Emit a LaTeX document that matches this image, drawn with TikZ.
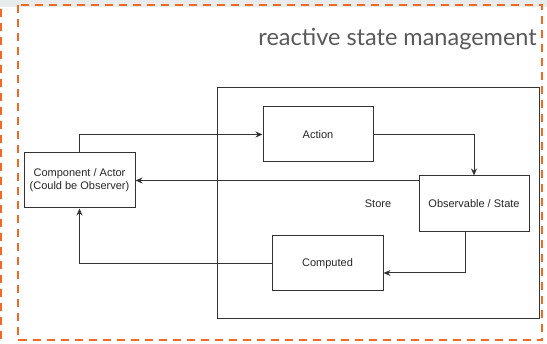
\documentclass[tikz,border=0pt]{standalone}
\usepackage{fontspec}
\setmainfont{Liberation Sans}
\newfontfamily\titlefont{Lato}
\usetikzlibrary{arrows.meta,calc}
\definecolor{frameorange}{HTML}{F26A21}
\definecolor{bandgray}{HTML}{E9ECEC}
\definecolor{titlegray}{HTML}{595959}
\definecolor{linegray}{HTML}{333333}
\tikzset{
  box/.style={draw=linegray, line width=1pt, rectangle, inner sep=0pt, align=center,
    font=\fontsize{11pt}{13pt}\selectfont, text=black!85},
  arr/.style={draw=linegray, line width=1pt, -{Stealth[length=7pt,width=6pt]}},
  frame/.style={draw=frameorange, line width=2pt, dash pattern=on 8pt off 6pt}
}
\begin{document}
\begin{tikzpicture}[x=1pt,y=-1pt]
\useasboundingbox (0,0) rectangle (547,344);
\fill[bandgray] (0,0) rectangle (547,7);
\draw[frame] (18,5) rectangle (542,340.5);
\draw[frame] (1,9) -- (1,344);
\node[anchor=base east, font=\titlefont\fontsize{23.5pt}{28pt}\selectfont, text=titlegray, inner sep=0pt] (title) at (537,46) {reactive state management};
\node[box, minimum width=322pt, minimum height=231pt] (store) at (378,203.5) {Store};
\node[box, minimum width=111pt, minimum height=55pt] (comp) at (79.5,180.5) {Component / Actor\\(Could be Observer)};
\node[box, minimum width=110pt, minimum height=55pt, fill=white] (action) at (318,134.5) {Action};
\node[box, minimum width=110pt, minimum height=56pt, fill=white] (obs) at (474,204) {Observable / State};
\node[box, minimum width=111pt, minimum height=55pt, fill=white] (computed) at (327.5,263.5) {Computed};
\draw[arr] (comp.north) |- (action.west);
\draw[arr] (action.east) -| (obs.north);
\draw[arr] (obs.west |- comp.east) -- (comp.east);
\coordinate (obsout) at ([xshift=-9pt]obs.south);
\coordinate (compin) at ([yshift=-9.5pt]computed.east);
\draw[arr] (obsout) |- (compin);
\draw[arr] (computed.west) -| (comp.south);
\end{tikzpicture}
\end{document}
